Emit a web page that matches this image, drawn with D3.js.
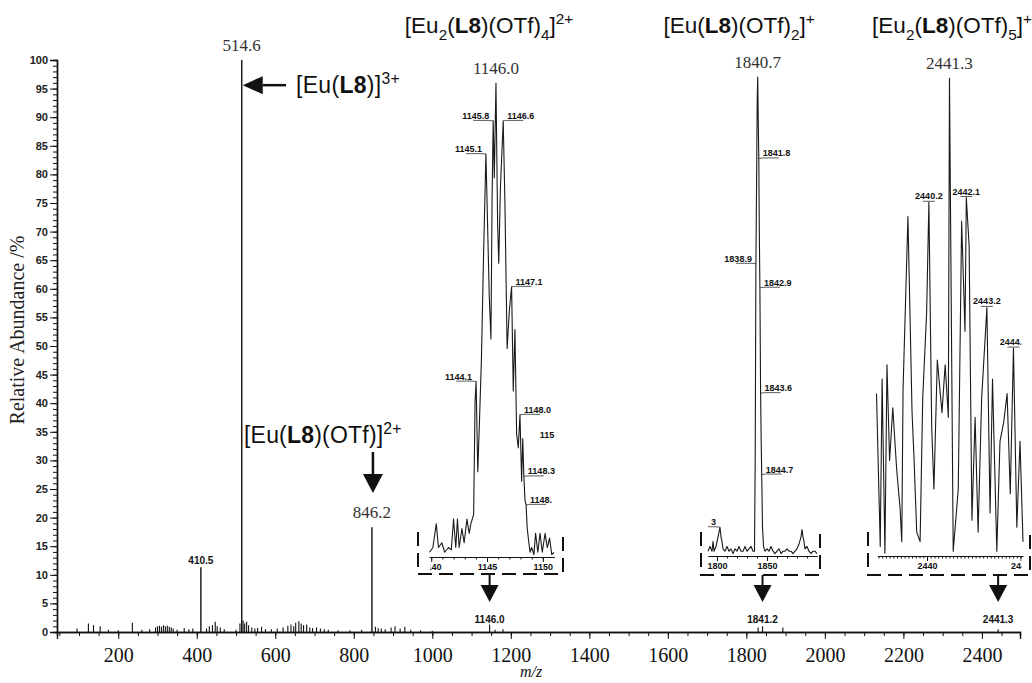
<!DOCTYPE html>
<html><head><meta charset="utf-8">
<script src="https://cdn.jsdelivr.net/npm/d3@7"></script>
<style>body{margin:0;background:#fff}svg{display:block}</style>
</head><body>
<svg id="c" width="1032" height="683"></svg>
<script>
// ---------------- DATA ----------------
const yTickValues = [0,5,10,15,20,25,30,35,40,45,50,55,60,65,70,75,80,85,90,95,100];
const xTickValues = [200,400,600,800,1000,1200,1400,1600,1800,2000,2200,2400];

// main spectrum sticks [m/z, relative abundance %]
const mainPeaks = [
 [95,0.6],[124,1.5],[137,1.2],[154,1.0],[175,0.4],[200,0.3],[236,1.6],[260,0.4],[280,0.5],
 [295,0.8],[300,1.0],[305,1.1],[310,0.9],[315,1.2],[320,1.0],[325,1.1],[330,0.9],[335,0.8],[340,0.6],
 [350,0.4],[368,0.7],[380,0.5],[390,0.6],[410.5,11.3],[425,0.6],[432,1.0],[440,1.2],[447,1.8],[452,1.0],
 [460,0.8],[470,0.5],[500,0.4],[510,1.5],[514.6,100],[518,2.0],[522,1.5],[527,1.8],[532,1.2],[540,0.8],
 [548,0.6],[555,0.7],[565,0.9],[575,0.5],[590,0.5],[605,0.6],[620,0.8],[632,1.1],[640,1.3],[647,1.0],
 [652,1.6],[660,1.9],[666,1.5],[672,1.2],[680,1.3],[688,0.8],[695,0.7],[705,0.8],[715,0.6],[725,0.5],
 [735,0.4],[760,0.3],[790,0.3],[820,0.4],[846.2,18.3],[855,0.9],[862,0.7],[870,0.6],[880,0.5],[895,0.8],
 [905,1.0],[918,0.6],[930,0.9],[945,0.4],[970,0.3],[1000,0.2],[1146,1.3],[1160,0.4],[1180,0.5],
 [1830,0.8],[1841.2,1.0],[1893,0.8],[2441.3,0.5]
];
const mainLabelMz   = [410.5, 514.6, 846.2];
const mainLabelInt  = [11.3, 100, 18.3];
const mainLabelText = ["410.5","514.6","846.2"];
const mainLabelSerif= [false, true, true];

// inset 1: [Eu2(L8)(OTf)4]2+
const inset1Trace = [
 [1139.85,1],[1140.15,2],[1140.45,7],[1140.65,2],[1140.95,3],[1141.2,1],[1141.55,2],[1141.8,1.5],[1142.0,8],
 [1142.2,2],[1142.35,8],[1142.5,2],[1142.75,6],[1142.95,3],[1143.2,8],[1143.4,5],[1143.55,7],[1143.8,9],
 [1143.93,33],[1144.02,37],[1144.17,18],[1144.3,27],[1144.5,42],[1144.7,65],[1144.9,85],[1145.05,70],
 [1145.2,55],[1145.35,46],[1145.45,75],[1145.55,92],[1145.65,80],[1145.8,100],[1145.95,70],[1146.05,62],
 [1146.2,78],[1146.45,92],[1146.6,75],[1146.8,44],[1147.0,52],[1147.2,57],[1147.35,35],[1147.5,48],
 [1147.65,26],[1147.8,23],[1147.95,30],[1148.1,16],[1148.2,25],[1148.3,17],[1148.4,12],[1148.5,11],
 [1148.6,6],[1148.85,1],[1149.0,2],[1149.2,0.5],[1149.35,5],[1149.55,1],[1149.75,5],[1149.95,1],
 [1150.2,5],[1150.4,2],[1150.6,4],[1150.8,0.5],[1151,1]
];
const inset1Labels = [ // text, m/z, %, side
 ["1145.8",1145.55,92,"L"],["1146.6",1146.45,92,"R"],["1145.1",1144.9,85,"L"],["1147.1",1147.2,57,"R"],
 ["1144.1",1144.02,37,"L"],["1148.0",1147.95,30,"R"],["115",1148.2,25,"N"],["1148.3",1148.3,17,"R"],
 ["1148.",1148.5,11,"R"]
];
const inset1Ticks = [1140,1145,1150];
const inset1Title = [["[Eu",""],["2","sub"],["(",""],["L8","b"],[")(OTf)",""],["4","sub"],["]",""],["2+","sup"]];
const inset1Top = ["1146.0",1145.8,100];
const inset1Main = ["1146.0",1146.0];

// inset 2: [Eu(L8)(OTf)2]+
const inset2Trace = [
 [1791,1],[1793,2],[1795,1],[1796,3],[1797,1],[1799,2],[1800,3],[1801,4],[1802,5],[1803,6],[1804,4],[1805,3],
 [1806,1.5],[1808,1],[1810,2],[1812,1],[1814,1.5],[1816,0.5],[1818,1.5],[1820,1],[1822,2],[1824,1],[1826,1],
 [1828,2],[1830,1],[1832,1.5],[1834,2],[1836,1],[1837.5,1],[1838.2,20],[1838.9,61],[1839.6,78],[1840.2,95],
 [1840.7,100],[1841.2,92],[1841.8,83],[1842.3,68],[1842.9,56],[1843.6,34],[1844.2,24],[1844.7,17],[1845.5,6],
 [1846.5,2],[1848,1],[1850,1.5],[1852,1],[1854,2],[1856,1],[1858,0.5],[1860,1],[1862,1.5],[1864,0.5],[1866,1],
 [1868,1],[1870,1.5],[1872,1],[1874,1],[1876,0.5],[1878,1],[1880,1.5],[1882,2.5],[1884,4],[1885,5.5],[1886,4],
 [1887,3],[1888,1.5],[1890,2],[1892,1],[1894,0.5],[1896,1],[1898,1],[1900,0.5]
];
const inset2Labels = [
 ["1841.8",1841.8,83,"R"],["1838.9",1838.9,61,"L"],["1842.9",1842.9,56,"R"],["1843.6",1843.6,34,"R"],
 ["1844.7",1844.7,17,"R"],["3",1803,6,"L"]
];
const inset2Ticks = [1800,1850];
const inset2Title = [["[Eu(",""],["L8","b"],[")(OTf)",""],["2","sub"],["]",""],["+","sup"]];
const inset2Top = ["1840.7",1840.7,100];
const inset2Main = ["1841.2",1841.2];

// inset 3: [Eu2(L8)(OTf)5]+
const inset3Trace = [
 [2437.3,34],[2437.5,2],[2437.6,37],[2437.75,0.6],[2437.86,40],[2438.0,20],[2438.17,31],[2438.38,18],
 [2438.56,10],[2438.65,3],[2438.72,35],[2438.98,71],[2439.2,30],[2439.3,21],[2439.45,5],[2439.63,3],
 [2439.77,33],[2439.98,51],[2440.1,74],[2440.25,27],[2440.37,14],[2440.55,41],[2440.8,30],[2440.97,40],
 [2441.14,29],[2441.2,100],[2441.4,1],[2441.67,14],[2441.85,70],[2442.03,47],[2442.1,75],[2442.25,65],
 [2442.4,7.5],[2442.57,29],[2442.73,5],[2442.92,33],[2443.2,52],[2443.37,9],[2443.5,37],[2443.73,1],
 [2443.9,24],[2444.1,28],[2444.28,34],[2444.45,13],[2444.62,43.5],[2444.8,6],[2444.97,24],[2445.13,3]
];
const inset3Labels = [
 ["2440.2",2440.1,74,"C"],["2442.1",2442.1,75,"C"],["2443.2",2443.2,52,"C"],["2444.6",2444.62,43.5,"C"]
];
const inset3Ticks = [2440,2445];
const inset3Title = [["[Eu",""],["2","sub"],["(",""],["L8","b"],[")(OTf)",""],["5","sub"],["]",""],["+","sup"]];
const inset3Top = ["2441.3",2441.2,100];
const inset3Main = ["2441.3",2441.3];

// annotations on main spectrum
const ann1Parts = [["[Eu(",""],["L8","b"],[")]",""],["3+","sup"]];
const ann2Parts = [["[Eu(",""],["L8","b"],[")(OTf)]",""],["2+","sup"]];

// ---------------- DRAW ----------------
const svg = d3.select("#c");
const SANS = "Liberation Sans, Arial, sans-serif";
const SERIF = "Liberation Serif, Times New Roman, serif";

const x = d3.scaleLinear().domain([44,2497]).range([57,1020]);
const y = d3.scaleLinear().domain([0,100]).range([632,60]);

// y axis
const gyMinor = svg.append("g").attr("transform","translate(57,0)")
  .call(d3.axisLeft(y).tickValues(d3.range(0,101,1)).tickSize(4).tickFormat(""));
const gy = svg.append("g").attr("transform","translate(57,0)")
  .call(d3.axisLeft(y).tickValues(yTickValues).tickSize(7).tickPadding(2));
gy.selectAll("text").attr("font-family",SANS).attr("font-size",11).attr("font-weight","bold").attr("fill","#222");
[gyMinor,gy].forEach(g=>{g.select(".domain").attr("stroke","#111").attr("stroke-width",1.4);
  g.selectAll("line").attr("stroke","#111");});

// x axis
const gxMinor = svg.append("g").attr("transform","translate(0,632)")
  .call(d3.axisBottom(x).tickValues(d3.range(50,2497,50)).tickSize(4).tickFormat(""));
const gx = svg.append("g").attr("transform","translate(0,632)")
  .call(d3.axisBottom(x).tickValues(xTickValues).tickSize(7).tickPadding(9).tickFormat(d3.format("d")));
gx.selectAll("text").attr("font-family",SERIF).attr("font-size",20).attr("fill","#111");
[gxMinor,gx].forEach(g=>{g.select(".domain").attr("stroke","#111").attr("stroke-width",1.4);
  g.selectAll("line").attr("stroke","#111");});

// axis titles
svg.append("text").attr("transform","translate(24,330) rotate(-90)").attr("text-anchor","middle")
  .attr("font-family",SERIF).attr("font-size",20).attr("fill","#222").text("Relative Abundance /%");
svg.append("text").attr("x",531).attr("y",677).attr("text-anchor","middle")
  .attr("font-family",SERIF).attr("font-style","italic").attr("font-size",16).attr("fill","#111").text("m/z");

// main sticks
svg.append("g").selectAll("line").data(mainPeaks).join("line")
  .attr("x1",d=>x(d[0])).attr("x2",d=>x(d[0]))
  .attr("y1",y(0)).attr("y2",d=>y(d[1]))
  .attr("stroke","#111").attr("stroke-width",d=>d[1]>5?1.4:1.1);

// main labels
mainLabelMz.forEach((m,i)=>{
  const serif = mainLabelSerif[i];
  svg.append("text").attr("x",x(m)).attr("y",y(mainLabelInt[i])-(serif?9:3))
    .attr("text-anchor","middle").attr("font-family",serif?SERIF:SANS)
    .attr("font-size",serif?17:10).attr("font-weight",serif?"normal":"bold")
    .attr("fill",serif?"#333":"#111").text(mainLabelText[i]);
});

function formula(x0,y0,parts,size,anchor){
  const t = svg.append("text").attr("x",x0).attr("y",y0).attr("text-anchor",anchor)
    .attr("font-family",SANS).attr("font-size",size).attr("fill","#111");
  let shift=0;
  parts.forEach(([s,k])=>{
    const target = k==="sub"?size*0.3:(k==="sup"?-size*0.38:0);
    const ts = t.append("tspan").text(s).attr("dy",target-shift);
    shift=target;
    if(k==="sub"||k==="sup") ts.attr("font-size",size*0.68);
    if(k==="b") ts.attr("font-weight","bold");
  });
  return t;
}
function arrow(x1,y1,x2,y2,headLen,headW,sw){
  const a=Math.atan2(y2-y1,x2-x1), ca=Math.cos(a), sa=Math.sin(a);
  const bx=x2-headLen*ca, by=y2-headLen*sa;
  svg.append("line").attr("x1",x1).attr("y1",y1).attr("x2",bx).attr("y2",by)
    .attr("stroke","#111").attr("stroke-width",sw);
  svg.append("path").attr("d",`M${x2},${y2}L${bx-headW*sa},${by+headW*ca}L${bx+headW*sa},${by-headW*ca}Z`)
    .attr("fill","#111");
}

// annotation 1: [Eu(L8)]3+
arrow(286, y(95.6), x(514.6)+1, y(95.6), 20, 9, 2.5);
formula(296, y(95.6)+8, ann1Parts, 23, "start").attr("letter-spacing",0.3);
// annotation 2: [Eu(L8)(OTf)]2+
formula(244, 443, ann2Parts, 23, "start").attr("letter-spacing",0.2);
arrow(x(846.2)+1, 452, x(846.2)+1, 493, 19, 10, 2.5);

// ---------------- INSETS ----------------
const insets = [
 {trace:inset1Trace, labels:inset1Labels, ticks:inset1Ticks, minor:1, title:inset1Title, top:inset1Top, main:inset1Main,
  dom:[1139.8,1151.0], rng:[429,554], base:557, topY:83, clip:[430,556], box:[418,563,532,574], titleX:489},
 {trace:inset2Trace, labels:inset2Labels, ticks:inset2Ticks, minor:10, title:inset2Title, top:inset2Top, main:inset2Main,
  dom:[1791,1900], rng:[708,817], base:556, topY:77, clip:[708,830], box:[701,820,532,575], titleX:739},
 {trace:inset3Trace, labels:inset3Labels, ticks:inset3Ticks, minor:0.2, title:inset3Title, top:inset3Top, main:inset3Main,
  dom:[2437.38,2445.13], rng:[878,1023], base:556, topY:78, clip:[860,1021.5], box:[868,1030,532,575], titleX:952}
];
const defs = svg.append("defs");
insets.forEach((ins,k)=>{
  const xs = d3.scaleLinear().domain(ins.dom).range(ins.rng);
  const ys = d3.scaleLinear().domain([0,100]).range([ins.base,ins.topY]);
  // trace + axis line (not clipped)
  svg.append("path").datum(ins.trace)
    .attr("d",d3.line().x(d=>xs(d[0])).y(d=>ys(d[1])))
    .attr("fill","none").attr("stroke","#1a1a1a").attr("stroke-width",1.1).attr("stroke-linejoin","round");
  const minorVals = d3.range(Math.ceil(ins.dom[0]/ins.minor)*ins.minor, ins.dom[1], ins.minor);
  const ga = svg.append("g").attr("transform",`translate(0,${ins.base})`)
    .call(d3.axisBottom(xs).tickValues(minorVals).tickSize(2.5).tickFormat("").tickSizeOuter(0));
  // labels clipped at the inset's edges
  defs.append("clipPath").attr("id","cl"+k).append("rect")
    .attr("x",ins.clip[0]).attr("y",0).attr("width",ins.clip[1]-ins.clip[0]).attr("height",683);
  const g = svg.append("g").attr("clip-path",`url(#cl${k})`);
  const gb = g.append("g").attr("transform",`translate(0,${ins.base})`)
    .call(d3.axisBottom(xs).tickValues(ins.ticks).tickSize(5).tickPadding(2).tickSizeOuter(0).tickFormat(d3.format("d")));
  [ga,gb].forEach(a=>{a.select(".domain").attr("stroke","#111").attr("stroke-width",1);
     a.selectAll("line").attr("stroke","#111");});
  gb.selectAll("text").attr("font-family",SANS).attr("font-size",9).attr("font-weight","bold").attr("fill","#111");
  // peak labels
  ins.labels.forEach(([t,m,v,side])=>{
    const px=xs(m), py=ys(v);
    if(side==="C"){
      g.append("text").attr("x",px).attr("y",py-3).attr("text-anchor","middle")
        .attr("font-family",SANS).attr("font-size",9).attr("font-weight","bold").attr("fill","#111").text(t);
      g.append("line").attr("x1",px-6).attr("x2",px+6).attr("y1",py-1).attr("y2",py-1).attr("stroke","#333").attr("stroke-width",0.8);
      return;
    }
    if(side==="N"){
      g.append("text").attr("x",px+17).attr("y",py-1).attr("text-anchor","start")
        .attr("font-family",SANS).attr("font-size",9).attr("font-weight","bold").attr("fill","#111").text(t);
      return;
    }
    const dir = side==="R"?1:-1;
    const bx = px+dir*4, by = py-2;
    g.append("text").attr("x",bx).attr("y",by).attr("text-anchor",side==="R"?"start":"end")
      .attr("font-family",SANS).attr("font-size",9).attr("font-weight","bold").attr("fill","#111").text(t);
    g.append("path").attr("d",`M${px},${py}L${bx},${by+1.5}L${bx+dir*16},${by+1.5}`)
      .attr("fill","none").attr("stroke","#333").attr("stroke-width",0.8);
  });
  // top serif label
  svg.append("text").attr("x",xs(ins.top[1])).attr("y",ys(ins.top[2])-9).attr("text-anchor","middle")
    .attr("font-family",SERIF).attr("font-size",17).attr("fill","#333").text(ins.top[0]);
  // title
  formula(ins.titleX, 33, ins.title, 22.5, "middle");
  // dashed bracket
  const [l,r,t,b] = ins.box;
  svg.append("path").attr("d",`M${l},${t}L${l},${b}L${r},${b}L${r},${t}`)
    .attr("fill","none").attr("stroke","#111").attr("stroke-width",2).attr("stroke-dasharray","14,7");
  // arrow to main spectrum
  const ax = x(ins.main[1]);
  arrow(ax, b, ax, 602, 17, 9, 2);
  svg.append("text").attr("x",ax).attr("y",623).attr("text-anchor","middle")
    .attr("font-family",SANS).attr("font-size",10).attr("font-weight","bold").attr("fill","#111").text(ins.main[0]);
});
</script>
</body></html>
